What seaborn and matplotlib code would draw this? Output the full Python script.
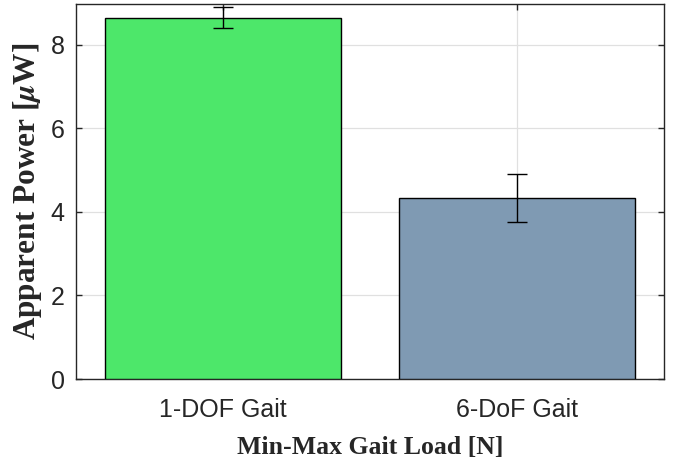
import numpy as np
import pandas as pd
import matplotlib
matplotlib.use('Agg')
import matplotlib.pyplot as plt
import seaborn as sns

# values
gaits = ['1-DOF Gait', '6-DoF Gait']
power_mean = [8.65, 4.34]
power_low = [8.41, 3.77]
power_high = [8.91, 4.91]
bar_colors = ['#4de76a', '#7f9ab3']

df = pd.DataFrame({'Gait': gaits, 'Power': power_mean})

sns.set_style('white')
plt.rcParams['font.family'] = ['Liberation Sans', 'DejaVu Sans']
plt.rcParams['mathtext.fontset'] = 'stix'

fig = plt.figure(figsize=(6.82, 4.67), dpi=100)
ax = fig.add_axes([0.1114, 0.1884, 0.8622, 0.803])

sns.barplot(data=df, x='Gait', y='Power', hue='Gait', palette=bar_colors,
            saturation=1, width=0.8, edgecolor='black', linewidth=1.0,
            legend=False, ax=ax, zorder=3)

yerr = [np.array(power_mean) - np.array(power_low),
        np.array(power_high) - np.array(power_mean)]
ax.errorbar(range(len(gaits)), power_mean, yerr=yerr, fmt='none',
            ecolor='black', elinewidth=1.0, capsize=7, capthick=1.0, zorder=4)

ax.set_xlim(-0.5, 1.5)
ax.set_ylim(0, 8.98)
ax.set_yticks([0, 2, 4, 6, 8])
ax.grid(True, color='#e0e0e0', linewidth=0.9, zorder=0)
ax.set_axisbelow(True)

for s in ax.spines.values():
    s.set_color('#262626')
    s.set_linewidth(1.0)
ax.tick_params(direction='in', length=4, width=1.0, colors='#262626',
               labelsize=18, top=True, right=True, bottom=True, left=True)
ax.tick_params(axis='x', pad=14)
ax.tick_params(axis='y', pad=8)
for lbl in ax.get_xticklabels() + ax.get_yticklabels():
    lbl.set_color('#262626')

ax.set_xlabel('Min-Max Gait Load [N]', fontsize=18.5, fontweight='bold',
              family='Liberation Serif', color='#262626', labelpad=10)
ax.set_ylabel(r'Apparent Power [$\boldsymbol{\mu}$W]', fontsize=22.5,
              fontweight='bold', family='Liberation Serif', color='#262626',
              labelpad=5)

fig.savefig('out.png', dpi=100)
